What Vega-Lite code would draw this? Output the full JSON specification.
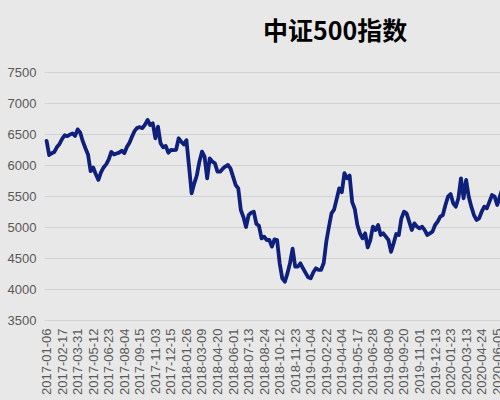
{
  "$schema": "https://vega.github.io/schema/vega-lite/v6.json",
  "width": 461,
  "height": 248,
  "autosize": {"type": "none"},
  "padding": {"left": 44, "top": 72, "right": 0, "bottom": 80},
  "background": "#e8e8e8",
  "title": {"text": "中证500指数", "anchor": "start", "frame": "group", "dx": 219, "offset": 21, "fontSize": 25, "font": "Noto Sans CJK SC", "fontWeight": "bold", "color": "#000000"},
  "config": {"view": {"stroke": null}},
  "data": {"values": [
    {"date": "2017-01-06", "close": 6390}, {"date": "2017-01-13", "close": 6160}, {"date": "2017-01-20", "close": 6190}, {"date": "2017-01-26", "close": 6210}, {"date": "2017-02-03", "close": 6290}, {"date": "2017-02-10", "close": 6340}, {"date": "2017-02-17", "close": 6420}, {"date": "2017-02-24", "close": 6480}, {"date": "2017-03-03", "close": 6465}, {"date": "2017-03-10", "close": 6490},
    {"date": "2017-03-17", "close": 6510}, {"date": "2017-03-24", "close": 6470}, {"date": "2017-03-31", "close": 6575}, {"date": "2017-04-07", "close": 6520}, {"date": "2017-04-14", "close": 6380}, {"date": "2017-04-21", "close": 6270}, {"date": "2017-04-28", "close": 6170}, {"date": "2017-05-05", "close": 5900}, {"date": "2017-05-12", "close": 5960}, {"date": "2017-05-19", "close": 5850},
    {"date": "2017-05-26", "close": 5760}, {"date": "2017-06-02", "close": 5880}, {"date": "2017-06-09", "close": 5960}, {"date": "2017-06-16", "close": 6010}, {"date": "2017-06-23", "close": 6090}, {"date": "2017-06-30", "close": 6210}, {"date": "2017-07-07", "close": 6170}, {"date": "2017-07-14", "close": 6185}, {"date": "2017-07-21", "close": 6200}, {"date": "2017-07-28", "close": 6230},
    {"date": "2017-08-04", "close": 6190}, {"date": "2017-08-11", "close": 6290}, {"date": "2017-08-18", "close": 6360}, {"date": "2017-08-25", "close": 6460}, {"date": "2017-09-01", "close": 6550}, {"date": "2017-09-08", "close": 6600}, {"date": "2017-09-15", "close": 6610}, {"date": "2017-09-22", "close": 6595}, {"date": "2017-09-29", "close": 6650}, {"date": "2017-10-13", "close": 6726},
    {"date": "2017-10-20", "close": 6645}, {"date": "2017-10-27", "close": 6673}, {"date": "2017-11-03", "close": 6431}, {"date": "2017-11-10", "close": 6620}, {"date": "2017-11-17", "close": 6350}, {"date": "2017-11-24", "close": 6285}, {"date": "2017-12-01", "close": 6306}, {"date": "2017-12-08", "close": 6199}, {"date": "2017-12-15", "close": 6242}, {"date": "2017-12-22", "close": 6240},
    {"date": "2017-12-29", "close": 6245}, {"date": "2018-01-05", "close": 6431}, {"date": "2018-01-12", "close": 6376}, {"date": "2018-01-19", "close": 6330}, {"date": "2018-01-26", "close": 6400}, {"date": "2018-02-02", "close": 5980}, {"date": "2018-02-09", "close": 5543}, {"date": "2018-02-14", "close": 5700}, {"date": "2018-02-23", "close": 5830}, {"date": "2018-03-02", "close": 6054},
    {"date": "2018-03-09", "close": 6215}, {"date": "2018-03-16", "close": 6134}, {"date": "2018-03-23", "close": 5785}, {"date": "2018-03-30", "close": 6107}, {"date": "2018-04-04", "close": 6054}, {"date": "2018-04-13", "close": 6027}, {"date": "2018-04-20", "close": 5892}, {"date": "2018-04-27", "close": 5892}, {"date": "2018-05-04", "close": 5940}, {"date": "2018-05-11", "close": 5975},
    {"date": "2018-05-18", "close": 6000}, {"date": "2018-05-25", "close": 5946}, {"date": "2018-06-01", "close": 5812}, {"date": "2018-06-08", "close": 5677}, {"date": "2018-06-15", "close": 5624}, {"date": "2018-06-22", "close": 5274}, {"date": "2018-06-29", "close": 5160}, {"date": "2018-07-06", "close": 5000}, {"date": "2018-07-13", "close": 5190}, {"date": "2018-07-20", "close": 5230},
    {"date": "2018-07-27", "close": 5247}, {"date": "2018-08-03", "close": 5050}, {"date": "2018-08-10", "close": 5020}, {"date": "2018-08-17", "close": 4817}, {"date": "2018-08-24", "close": 4844}, {"date": "2018-08-31", "close": 4790}, {"date": "2018-09-07", "close": 4790}, {"date": "2018-09-14", "close": 4683}, {"date": "2018-09-21", "close": 4801}, {"date": "2018-09-28", "close": 4790},
    {"date": "2018-10-12", "close": 4414}, {"date": "2018-10-19", "close": 4172}, {"date": "2018-10-26", "close": 4118}, {"date": "2018-11-02", "close": 4252}, {"date": "2018-11-09", "close": 4420}, {"date": "2018-11-16", "close": 4650}, {"date": "2018-11-23", "close": 4360}, {"date": "2018-11-30", "close": 4360}, {"date": "2018-12-07", "close": 4414}, {"date": "2018-12-14", "close": 4334},
    {"date": "2018-12-21", "close": 4260}, {"date": "2018-12-28", "close": 4190}, {"date": "2019-01-04", "close": 4172}, {"date": "2019-01-11", "close": 4270}, {"date": "2019-01-18", "close": 4334}, {"date": "2019-01-25", "close": 4310}, {"date": "2019-02-01", "close": 4310}, {"date": "2019-02-15", "close": 4420}, {"date": "2019-02-22", "close": 4763}, {"date": "2019-03-01", "close": 5000},
    {"date": "2019-03-08", "close": 5220}, {"date": "2019-03-15", "close": 5280}, {"date": "2019-03-22", "close": 5450}, {"date": "2019-03-29", "close": 5624}, {"date": "2019-04-04", "close": 5560}, {"date": "2019-04-12", "close": 5870}, {"date": "2019-04-19", "close": 5785}, {"date": "2019-04-26", "close": 5830}, {"date": "2019-04-30", "close": 5400}, {"date": "2019-05-10", "close": 5290},
    {"date": "2019-05-17", "close": 5032}, {"date": "2019-05-24", "close": 4898}, {"date": "2019-05-31", "close": 4817}, {"date": "2019-06-06", "close": 4898}, {"date": "2019-06-14", "close": 4672}, {"date": "2019-06-21", "close": 4790}, {"date": "2019-06-28", "close": 5005}, {"date": "2019-07-05", "close": 4951}, {"date": "2019-07-12", "close": 5032}, {"date": "2019-07-19", "close": 4871},
    {"date": "2019-07-26", "close": 4898}, {"date": "2019-08-02", "close": 4844}, {"date": "2019-08-09", "close": 4790}, {"date": "2019-08-16", "close": 4600}, {"date": "2019-08-23", "close": 4736}, {"date": "2019-08-30", "close": 4887}, {"date": "2019-09-06", "close": 4871}, {"date": "2019-09-12", "close": 5140}, {"date": "2019-09-20", "close": 5247}, {"date": "2019-09-27", "close": 5220},
    {"date": "2019-09-30", "close": 5086}, {"date": "2019-10-11", "close": 4951}, {"date": "2019-10-18", "close": 5059}, {"date": "2019-10-25", "close": 5005}, {"date": "2019-11-01", "close": 4979}, {"date": "2019-11-08", "close": 5005}, {"date": "2019-11-15", "close": 4951}, {"date": "2019-11-22", "close": 4871}, {"date": "2019-11-29", "close": 4898}, {"date": "2019-12-06", "close": 4925},
    {"date": "2019-12-13", "close": 5032}, {"date": "2019-12-20", "close": 5086}, {"date": "2019-12-27", "close": 5167}, {"date": "2020-01-03", "close": 5193}, {"date": "2020-01-10", "close": 5355}, {"date": "2020-01-17", "close": 5489}, {"date": "2020-01-23", "close": 5532}, {"date": "2020-02-07", "close": 5382}, {"date": "2020-02-14", "close": 5328}, {"date": "2020-02-21", "close": 5463},
    {"date": "2020-02-28", "close": 5785}, {"date": "2020-03-06", "close": 5463}, {"date": "2020-03-13", "close": 5758}, {"date": "2020-03-20", "close": 5489}, {"date": "2020-03-27", "close": 5328}, {"date": "2020-04-03", "close": 5193}, {"date": "2020-04-10", "close": 5113}, {"date": "2020-04-17", "close": 5140}, {"date": "2020-04-24", "close": 5247}, {"date": "2020-04-30", "close": 5328},
    {"date": "2020-05-08", "close": 5301}, {"date": "2020-05-15", "close": 5409}, {"date": "2020-05-22", "close": 5516}, {"date": "2020-05-29", "close": 5489}, {"date": "2020-06-05", "close": 5355}, {"date": "2020-06-12", "close": 5489}, {"date": "2020-06-19", "close": 5624}
  ]},
  "mark": {"type": "line", "color": "#0e1f7c", "strokeWidth": 3.8, "strokeJoin": "round", "strokeCap": "round"},
  "encoding": {
    "x": {
      "field": "date", "type": "ordinal", "sort": null,
      "scale": {"type": "point", "padding": 1.5},
      "axis": {
        "values": ["2017-01-06", "2017-02-17", "2017-03-31", "2017-05-12", "2017-06-23", "2017-08-04", "2017-09-15", "2017-11-03", "2017-12-15", "2018-01-26", "2018-03-09", "2018-04-20", "2018-06-01", "2018-07-13", "2018-08-24", "2018-10-12", "2018-11-23", "2019-01-04", "2019-02-22", "2019-04-04", "2019-05-17", "2019-06-28", "2019-08-09", "2019-09-20", "2019-11-01", "2019-12-13", "2020-01-23", "2020-03-13", "2020-04-24", "2020-06-05"],
        "labelAngle": -90, "title": null, "domain": false, "ticks": false, "grid": false,
        "labelFontSize": 13, "labelColor": "#595959", "labelFont": "Liberation Sans", "labelPadding": 8, "labelOverlap": false
      }
    },
    "y": {
      "field": "close", "type": "quantitative",
      "scale": {"domain": [3500, 7500], "nice": false, "zero": false},
      "axis": {
        "values": [3500, 4000, 4500, 5000, 5500, 6000, 6500, 7000, 7500], "format": "d",
        "title": null, "domain": false, "ticks": false, "grid": true, "gridColor": "#d2d2d2", "gridWidth": 1,
        "labelFontSize": 13, "labelColor": "#595959", "labelFont": "Liberation Sans", "labelPadding": 8
      }
    }
  }
}
